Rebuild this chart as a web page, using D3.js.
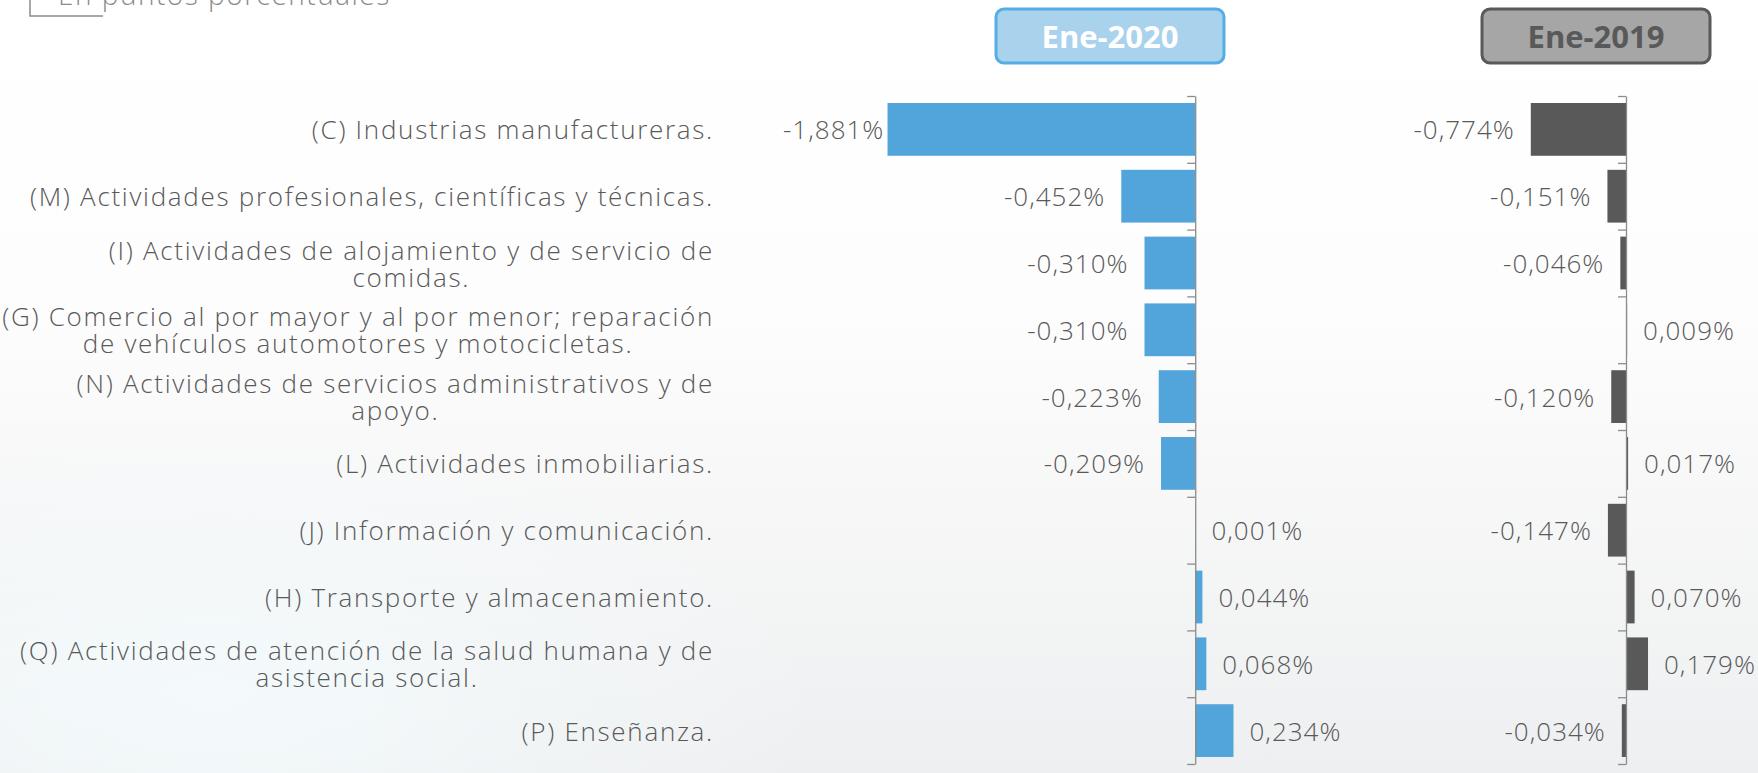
<!DOCTYPE html>
<meta charset="utf-8">
<style>
body { margin: 0; background: #fff; }
svg { display: block; font-family: "Century Gothic", "Open Sans", sans-serif; }
.cat { fill: #595959; font-size: 26px; font-weight: 300; letter-spacing: 1.7px; }
.val { fill: #595959; font-size: 26px; font-weight: 300; letter-spacing: 1px; }
.axis path, .axis line { stroke: #8c8c8c; stroke-width: 1.3; }
</style>
<body></body>
<script src="https://d3js.org/d3.v7.min.js"></script>
<script>

// categories, each split into the lines shown on the slide
var categories = [
  ["(C) Industrias manufactureras."],
  ["(M) Actividades profesionales, científicas y técnicas."],
  ["(I) Actividades de alojamiento y de servicio de", "comidas."],
  ["(G) Comercio al por mayor y al por menor; reparación", "de vehículos automotores y motocicletas."],
  ["(N) Actividades de servicios administrativos y de", "apoyo."],
  ["(L) Actividades inmobiliarias."],
  ["(J) Información y comunicación."],
  ["(H) Transporte y almacenamiento."],
  ["(Q) Actividades de atención de la salud humana y de", "asistencia social."],
  ["(P) Enseñanza."]
];

// contribution in percentage points
var ene2020 = [-1.881, -0.452, -0.310, -0.310, -0.223, -0.209, 0.001, 0.044, 0.068, 0.234];
var ene2019 = [-0.774, -0.151, -0.046, 0.009, -0.120, 0.017, -0.147, 0.070, 0.179, -0.034];

var periods = ["Ene-2020", "Ene-2019"];
var subtitle = "En puntos porcentuales";

var width = 1758, height = 773;

var svg = d3.select("body").append("svg")
    .attr("width", width)
    .attr("height", height);

// slide background
var defs = svg.append("defs");
var bg = defs.append("linearGradient").attr("id", "bg")
    .attr("x1", 0).attr("y1", 0).attr("x2", 0).attr("y2", 1);
bg.append("stop").attr("offset", "0%").attr("stop-color", "#ffffff");
bg.append("stop").attr("offset", "40%").attr("stop-color", "#fdfdfd");
bg.append("stop").attr("offset", "100%").attr("stop-color", "#eeeff0");
var glow = defs.append("radialGradient").attr("id", "glow")
    .attr("cx", 0.12).attr("cy", 0.9).attr("r", 0.35);
glow.append("stop").attr("offset", "0%").attr("stop-color", "#f4fbfd").attr("stop-opacity", 0.9);
glow.append("stop").attr("offset", "100%").attr("stop-color", "#f4fbfd").attr("stop-opacity", 0);

svg.append("rect").attr("width", width).attr("height", height).attr("fill", "url(#bg)");
svg.append("rect").attr("width", width).attr("height", height).attr("fill", "url(#glow)");

// subtitle with its bracket, cut at the top edge
svg.append("path")
    .attr("d", "M30,0V16H103")
    .attr("fill", "none")
    .attr("stroke", "#8c8c8c")
    .attr("stroke-width", 1.5);
svg.append("text")
    .attr("x", 58)
    .attr("y", 5)
    .style("font-size", "28px")
    .style("font-weight", 300)
    .style("letter-spacing", "1.5px")
    .style("fill", "#8c8c8c")
    .text(subtitle);

var locale = d3.formatLocale({decimal: ",", thousands: ".", grouping: [3], currency: ["", ""], minus: "-"});
var fmt = locale.format(".3f");

// rows shared by both panels
var yTop = 96, yBottom = 764;
var y = d3.scaleBand()
    .domain(d3.range(categories.length))
    .range([yTop, yBottom])
    .paddingInner(0.21)
    .paddingOuter(0.105);
var yTicks = d3.scaleLinear().domain([0, categories.length]).range([yTop, yBottom]);

// category labels (block right aligned, lines centred)
var labelRight = 714, lineH = 27;
categories.forEach(function(lines, i) {
  var cy = y(i) + y.bandwidth() / 2;
  var t = svg.append("text").attr("class", "cat");
  var spans = lines.map(function(s, j) {
    return t.append("tspan")
      .attr("y", cy + (j - (lines.length - 1) / 2) * lineH)
      .attr("dominant-baseline", "central")
      .attr("text-anchor", "middle")
      .text(s);
  });
  var w = d3.max(spans, function(s) { return s.node().getComputedTextLength(); });
  spans.forEach(function(s) { s.attr("x", labelRight - w / 2); });
});

function panel(values, x, color, clamp) {
  var g = svg.append("g");

  g.selectAll(".bar")
      .data(values)
    .enter().append("rect")
      .attr("class", "bar")
      .attr("x", function(d) { return x(Math.min(0, d)); })
      .attr("y", function(d, i) { return y(i); })
      .attr("width", function(d) { return Math.abs(x(d) - x(0)); })
      .attr("height", y.bandwidth())
      .attr("fill", color);

  g.append("g")
      .attr("class", "axis")
      .attr("transform", "translate(" + x(0) + ",0)")
      .call(d3.axisLeft(yTicks).ticks(categories.length).tickSize(8).tickSizeOuter(0).tickFormat(""));

  var minLeft = x.range()[0];
  g.selectAll(".val")
      .data(values)
    .enter().append("text")
      .attr("class", "val")
      .attr("y", function(d, i) { return y(i) + y.bandwidth() / 2; })
      .attr("dominant-baseline", "central")
      .attr("text-anchor", function(d) { return d < 0 ? "end" : "start"; })
      .text(function(d) { return fmt(d) + "%"; })
      .attr("x", function(d) {
        if (d >= 0) return x(d) + 16;
        if (!clamp) return x(d) - 16;
        // keep the label inside the plot area
        var w = this.getComputedTextLength();
        return Math.max(x(d) - 16, minLeft + w);
      });
}

var x2020 = d3.scaleLinear().domain([-2.52, 0.5]).range([783, 1277]);
var x2019 = d3.scaleLinear().domain([-1, 1]).range([1503, 1749]);

panel(ene2020, x2020, "#52a5da", true);
panel(ene2019, x2019, "#595959", false);

// period headers
var headers = [
  {label: periods[0], x: 996, fill: "#a9d2ed", stroke: "#55ade2", text: "#ffffff"},
  {label: periods[1], x: 1482, fill: "#a6a6a6", stroke: "#595959", text: "#595959"}
];
headers.forEach(function(h) {
  svg.append("rect")
      .attr("x", h.x).attr("y", 9)
      .attr("width", 228).attr("height", 54)
      .attr("rx", 8)
      .attr("fill", h.fill)
      .attr("stroke", h.stroke)
      .attr("stroke-width", 3);
  svg.append("text")
      .attr("x", h.x + 114).attr("y", 36)
      .attr("text-anchor", "middle")
      .attr("dominant-baseline", "central")
      .style("font-size", "31px")
      .style("font-weight", "bold")
      .style("fill", h.text)
      .text(h.label);
});

</script>
